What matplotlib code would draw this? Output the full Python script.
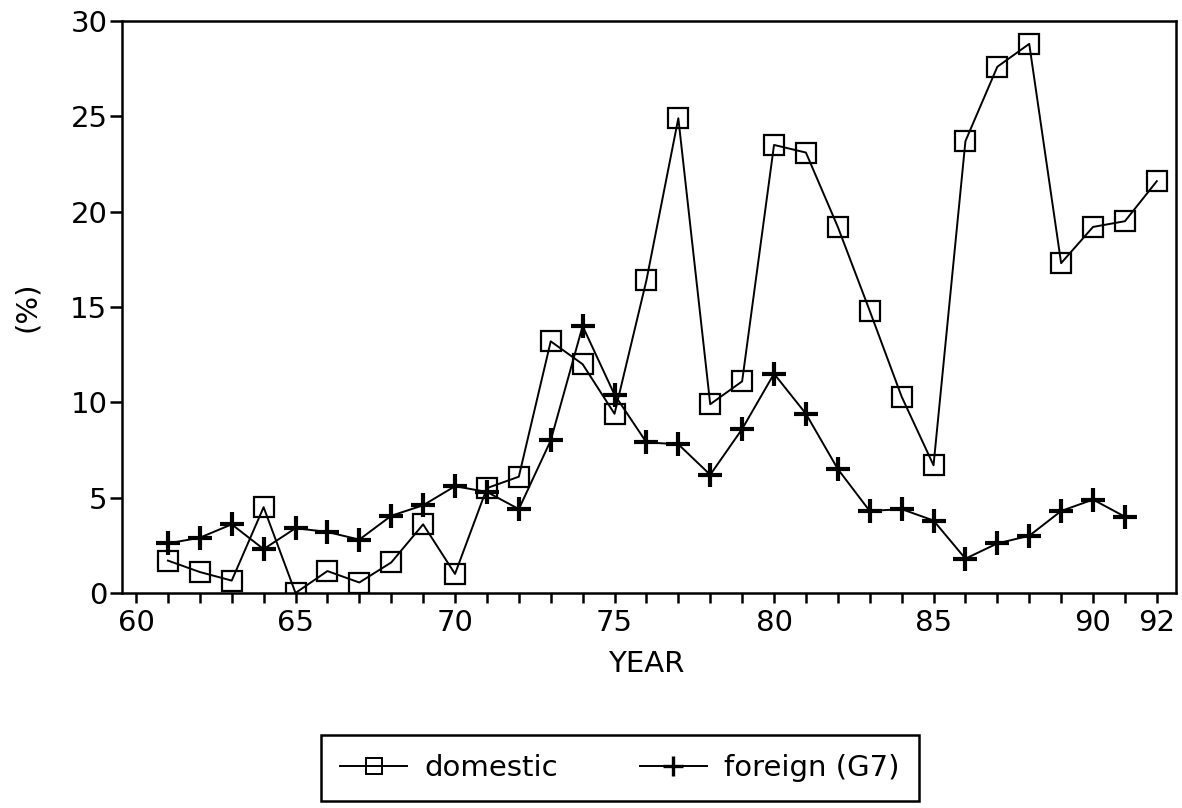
import numpy as np
import matplotlib.pyplot as plt

plt.rcParams['font.family'] = ['DejaVu Sans']

years = list(range(61, 93))
domestic = [1.7, 1.1, 0.65, 4.5, 0.0, 1.15, 0.55, 1.6, 3.6, 1.0,
            5.5, 6.1, 13.2, 12.0, 9.4, 16.4, 24.9, 9.9, 11.1, 23.5,
            23.1, 19.2, 14.8, 10.3, 6.7, 23.7, 27.6, 28.8, 17.3, 19.2,
            19.5, 21.6]
foreign_years = list(range(61, 92))
foreign = [2.6, 2.9, 3.6, 2.3, 3.4, 3.2, 2.8, 4.05, 4.6, 5.6,
           5.3, 4.4, 8.0, 14.0, 10.4, 7.9, 7.8, 6.2, 8.6, 11.5,
           9.4, 6.5, 4.3, 4.4, 3.8, 1.8, 2.6, 3.0, 4.3, 4.9,
           4.0]
xtick_labels = [60, 65, 70, 75, 80, 85, 90, 92]
ytick_labels = [0, 5, 10, 15, 20, 25, 30]

FS = 21

fig = plt.figure(figsize=(11.82, 8.08), dpi=100)
ax = fig.add_axes([0.1032, 0.2661, 0.8917, 0.7079])

ax.plot(years, domestic, color='black', lw=1.4, marker='s', ms=14.5,
        mfc='none', mec='black', mew=1.6, label='domestic')
ax.plot(foreign_years, foreign, color='black', lw=1.4, marker='+', ms=17,
        mew=3.0, label='foreign (G7)')

ax.set_xlim(59.56, 92.6)
ax.set_ylim(0, 30)
ax.set_xticks(xtick_labels)
ax.set_xticks(range(60, 93), minor=True)
ax.set_yticks(ytick_labels)
ax.tick_params(axis='both', which='both', direction='out', width=1.8,
               labelsize=FS, colors='black')
ax.tick_params(axis='x', which='both', length=7.5, pad=4)
ax.tick_params(axis='y', which='both', length=8.5, pad=2)
for s in ax.spines.values():
    s.set_linewidth(1.8)

# axis titles placed in figure coordinates
fig.text(646 / 1182, 1 - 664 / 808, 'YEAR', fontsize=FS,
         ha='center', va='center')
fig.text(27 / 1182, 1 - 307 / 808, '(%)', fontsize=FS, rotation=90,
         ha='center', va='center')

# legend handles drawn a little lighter than the data marks
handles = [
    plt.Line2D([], [], color='black', lw=1.4, marker='s', ms=11,
               mfc='none', mec='black', mew=1.4),
    plt.Line2D([], [], color='black', lw=1.4, marker='+', ms=14, mew=2.4),
]
leg = fig.legend(handles, ['domestic', 'foreign (G7)'],
                 loc='upper left', bbox_to_anchor=(321 / 1182, 1 - 735 / 808),
                 bbox_transform=fig.transFigure, ncol=2, fontsize=FS,
                 frameon=True, fancybox=False, edgecolor='black',
                 framealpha=1, handlelength=2.3, columnspacing=2.8,
                 borderpad=0.65, handletextpad=0.6, borderaxespad=0)
leg.get_frame().set_linewidth(1.8)

fig.savefig('out.png', dpi=100)
